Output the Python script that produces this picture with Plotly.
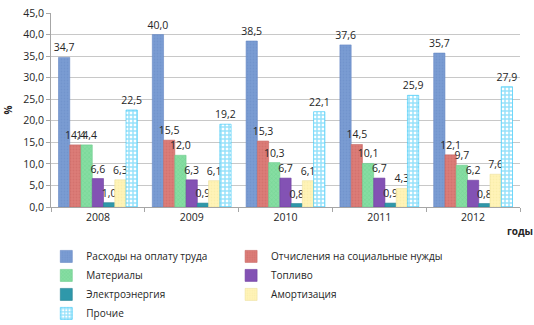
import plotly.graph_objects as go

years = ["2008", "2009", "2010", "2011", "2012"]
series_names = [
    "Расходы на оплату труда",
    "Отчисления на социальные нужды",
    "Материалы",
    "Топливо",
    "Электроэнергия",
    "Амортизация",
    "Прочие",
]
wages = [34.7, 40.0, 38.5, 37.6, 35.7]
social = [14.4, 15.5, 15.3, 14.5, 12.1]
materials = [14.4, 12.0, 10.3, 10.1, 9.7]
fuel = [6.6, 6.3, 6.7, 6.7, 6.2]
electro = [1.0, 0.9, 0.8, 0.9, 0.8]
amort = [6.3, 6.1, 6.1, 4.3, 7.6]
other = [22.5, 19.2, 22.1, 25.9, 27.9]
y_ticks = [0, 5, 10, 15, 20, 25, 30, 35, 40, 45]

series_values = [wages, social, materials, fuel, electro, amort, other]
colors = ["#7A9CD3", "#DC7C78", "#86DDA2", "#8352B4", "#2F98AA", "#FFF4B8", "#FFFFFF"]
edges = ["#6688C4", "#C86864", "#6CCB8C", "#6E3EA0", "#237F90", "#EDE0A0", "#2EC4F6"]
patterns = [
    dict(shape=".", fgcolor="#6A8CC6", size=3, solidity=0.3),
    dict(shape=".", fgcolor="#C96864", size=3, solidity=0.3),
    dict(shape="x", fgcolor="#6CD08E", size=3, solidity=0.4),
    dict(shape=""),
    dict(shape=""),
    dict(shape=".", fgcolor="#F5E7A0", size=3, solidity=0.3),
    dict(shape="+", fgcolor="#2EC4F6", size=4, solidity=0.6),
]
legend_ids = ["legend", "legend2", "legend", "legend2", "legend", "legend2", "legend"]

fig = go.Figure()
for name, vals, col, edge, pat, lg in zip(series_names, series_values, colors, edges, patterns, legend_ids):
    fig.add_trace(go.Bar(
        name=name, x=years, y=vals, legend=lg,
        marker=dict(color=col, line=dict(width=0.6, color=edge), pattern=pat),
        text=[f"{v:.1f}".replace(".", ",") for v in vals],
        textposition="outside", textangle=0, constraintext="none",
        cliponaxis=False,
        textfont=dict(size=10.5, color="#262626"),
    ))

legend_common = dict(
    orientation="v", yanchor="top", xanchor="left",
    font=dict(size=10, color="#262626"),
    itemwidth=30, tracegroupgap=0, bgcolor="rgba(0,0,0,0)",
)

fig.update_layout(
    width=534, height=325,
    margin=dict(l=51, r=14, t=13, b=118, autoexpand=False),
    plot_bgcolor="white", paper_bgcolor="white",
    font=dict(family="Open Sans", size=10, color="#262626"),
    barmode="group", bargap=0.16, bargroupgap=0,
    separators=", ",
    showlegend=True,
    legend=dict(x=-0.01, y=-0.18, **legend_common),
    legend2=dict(x=0.384, y=-0.18, **legend_common),
    annotations=[dict(
        text="<b>годы</b>", x=1.0, y=-0.075, xref="paper", yref="paper",
        xanchor="center", yanchor="top", showarrow=False,
        font=dict(size=10, color="#262626"),
    )],
)
fig.update_yaxes(
    range=[0, 45], tickvals=y_ticks, tickformat=".1f",
    showgrid=True, gridcolor="#C8C8C8", gridwidth=1,
    showline=True, linecolor="#A6A6A6", linewidth=1,
    ticks="outside", ticklen=4, tickcolor="#A6A6A6",
    tickfont=dict(size=10.5),
    title=dict(text="<b>%</b>", standoff=8, font=dict(size=10)),
    zeroline=False,
)
fig.update_xaxes(
    showline=True, linecolor="#A6A6A6", linewidth=1,
    ticks="outside", ticklen=4, tickcolor="#A6A6A6", tickson="boundaries",
    tickfont=dict(size=10.5),
)

fig.write_html("out.html")
